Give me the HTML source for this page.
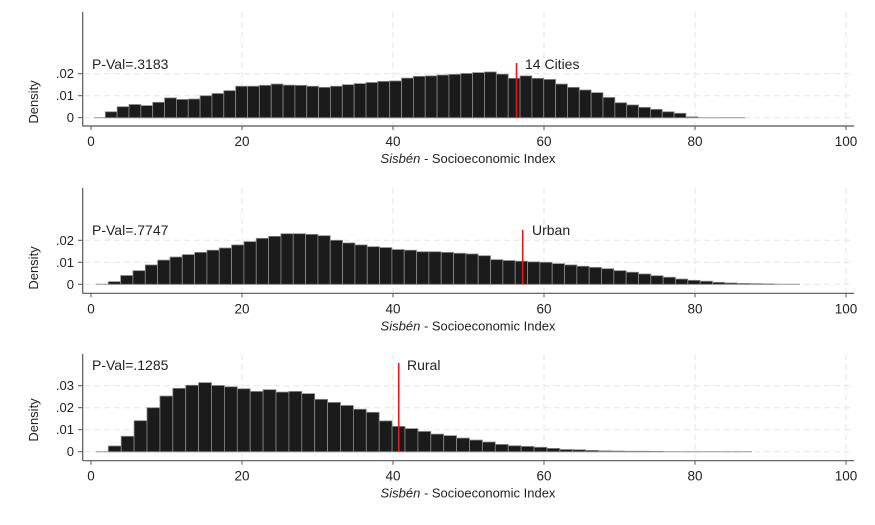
<!DOCTYPE html>
<html><head><meta charset="utf-8"><style>
html,body{margin:0;padding:0;background:#fff;}
svg{display:block;font-family:"Liberation Sans",Arial,sans-serif;}
</style></head><body>
<svg id="s" width="875" height="525" viewBox="0 0 875 525" xmlns="http://www.w3.org/2000/svg"></svg>
<script>
const S=document.getElementById('s');let h='';
function X(v){return 91+v*7.55;}
const panels=[
 {top:12,base:117.7,axis:126,start:105.3,step:11.85,lineFrom:94,lineTo:745,yt:[0,.01,.02],
  d:[.0027,.005,.006,.0055,.007,.009,.0083,.0085,.010,.011,.0123,.0143,.0143,.0147,.0153,.0148,.0147,.0143,.0138,.0143,.015,.0155,.016,.0165,.0167,.018,.0188,
     .019,.0194,.0197,.0201,.0205,.0208,.0198,.0179,.019,.0179,.0174,.0153,.0138,.0126,.0114,.0092,.0068,.0058,.0047,.0038,.0027,.002,.0004],
  red:516.5,redTop:63,lab:"14 Cities",lx:525,pv:"P-Val=.3183",ly:64,dy:102},
 {top:188,base:284.3,axis:293.3,start:108.3,step:12.33,lineFrom:96,lineTo:800,yt:[0,.01,.02],
  d:[.0012,.004,.0062,.0088,.011,.0124,.0135,.0145,.0155,.0165,.0179,.0194,.0209,.0218,.023,.023,.0227,.0221,.02,.0188,.0179,.0171,.0167,.0158,.0155,.0148,
     .0148,.0145,.0141,.0138,.013,.0112,.0108,.0105,.0102,.01,.0094,.0088,.0082,.0077,.0071,.0062,.0055,.0047,.0039,.0032,.0024,.0018,.0014,.0009,.0006,.0004,.0003,.0002],
  red:522.7,redTop:230,lab:"Urban",lx:532,pv:"P-Val=.7747",ly:230,dy:268},
 {top:354,base:451.7,axis:460.7,start:108.3,step:12.9,lineFrom:96,lineTo:752,yt:[0,.01,.02,.03],
  d:[.0026,.007,.0141,.02,.0253,.0288,.0302,.0314,.0301,.0295,.0286,.0274,.0282,.0271,.0274,.0264,.0238,.0224,.021,.0193,.0179,.014,.0115,.0105,.0092,.008,
     .0073,.0062,.0053,.0044,.0033,.0027,.0024,.002,.0015,.001,.0009,.0006,.0004,.0003,.0002,.0002,.0001],
  red:398.7,redTop:363,lab:"Rural",lx:407,pv:"P-Val=.1285",ly:365,dy:420}
];
panels.forEach(p=>{
 [20,40,60,80,100].forEach(t=>{h+=`<line x1="${X(t)}" y1="${p.top}" x2="${X(t)}" y2="${p.axis-1}" stroke="#e6e6e6" stroke-dasharray="6,4"/>`;});
 p.yt.forEach(t=>{const y=p.base-t*2200;h+=`<line x1="84" y1="${y}" x2="853" y2="${y}" stroke="#e6e6e6" stroke-dasharray="6,4"/>`;});
 h+=`<line x1="${p.lineFrom}" y1="${p.base}" x2="${p.lineTo}" y2="${p.base}" stroke="#999" stroke-width="1"/>`;
 p.d.forEach((v,i)=>{const ht=v*2200;const x=p.start+i*p.step;
  h+=`<rect x="${x.toFixed(2)}" y="${(p.base-ht).toFixed(2)}" width="${p.step.toFixed(2)}" height="${ht.toFixed(2)}" fill="#1b1b1b" stroke="#8a8a8a" stroke-width="0.8"/>`;});
 h+=`<line x1="82.7" y1="${p.top}" x2="82.7" y2="${p.axis}" stroke="#555" stroke-width="1.2"/>`;
 h+=`<line x1="82.7" y1="${p.axis}" x2="854" y2="${p.axis}" stroke="#555" stroke-width="1.2"/>`;
 [0,20,40,60,80,100].forEach(t=>{h+=`<line x1="${X(t)}" y1="${p.axis}" x2="${X(t)}" y2="${p.axis+4}" stroke="#555"/>`;
  h+=`<text x="${X(t)}" y="${p.axis+20}" font-size="13.5" text-anchor="middle" fill="#222">${t}</text>`;});
 p.yt.forEach(t=>{const y=p.base-t*2200;h+=`<line x1="78" y1="${y}" x2="82.7" y2="${y}" stroke="#555"/>`;
  h+=`<text x="74" y="${y+4.5}" font-size="13" text-anchor="end" fill="#222">${t==0?'0':String(t).replace('0.','.')}</text>`;});
 h+=`<text x="0" y="0" font-size="13" text-anchor="middle" fill="#222" transform="translate(38 ${p.dy}) rotate(-90)">Density</text>`;
 h+=`<text x="468" y="${p.axis+37}" font-size="13" text-anchor="middle" fill="#222"><tspan font-style="italic">Sisbén -</tspan>  Socioeconomic Index</text>`;
 h+=`<text x="92" y="${p.ly+5}" font-size="14" fill="#222">${p.pv}</text>`;
 h+=`<line x1="${p.red}" y1="${p.redTop}" x2="${p.red}" y2="${p.base}" stroke="#e8161b" stroke-width="1.6"/>`;
 h+=`<text x="${p.lx}" y="${p.ly+5}" font-size="14" fill="#222">${p.lab}</text>`;
});
S.innerHTML=h;
</script>
</body></html>
